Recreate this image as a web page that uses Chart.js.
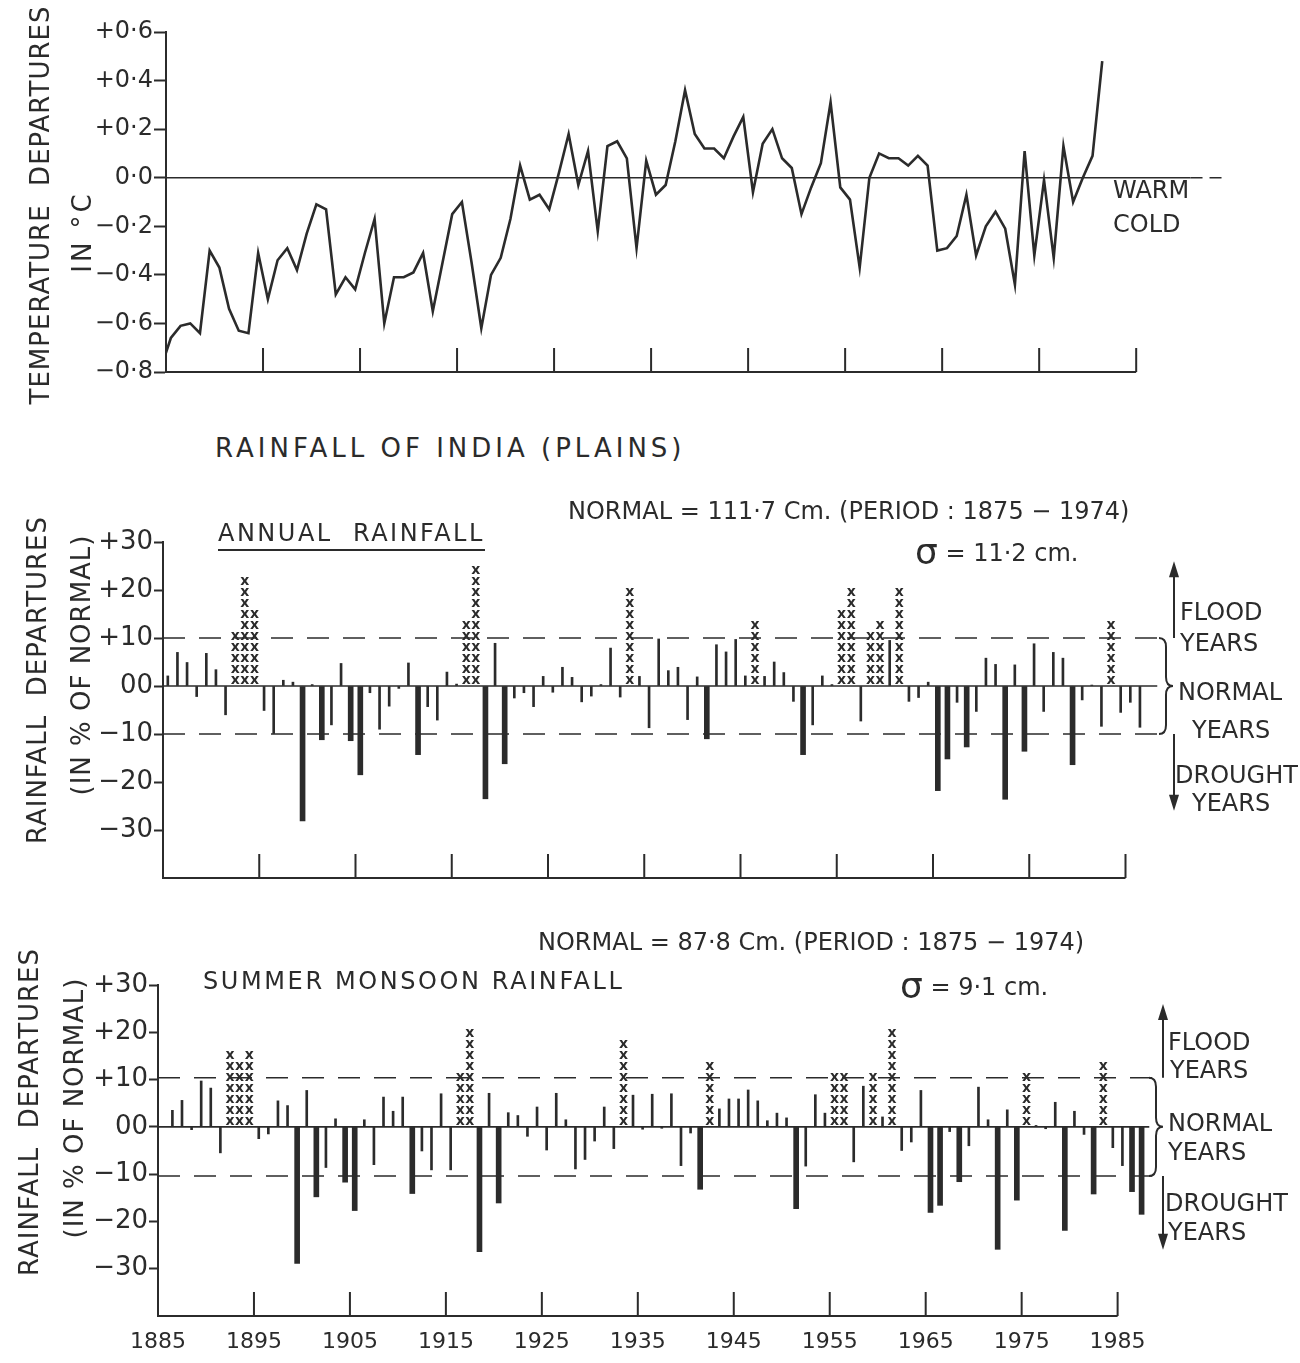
<!DOCTYPE html>
<html lang="en">
<head>
<meta charset="UTF-8">
<title>Temperature and rainfall departures, India</title>
<script src="https://cdn.jsdelivr.net/npm/chart.js@4.4.1/dist/chart.umd.min.js"></script>
<style>
  body { margin: 0; background: #fff; font-family: 'DejaVu Sans', sans-serif; color: #2b2b2b; }
  #page { position: relative; width: 1300px; height: 1363px; overflow: hidden; }
  canvas { position: absolute; left: 0; }
  .lbl { position: absolute; white-space: nowrap; font-size: 24px; line-height: 1; }
  .rot { font-size: 26px; letter-spacing: 1px; transform: translate(-50%, -50%) rotate(-90deg); }
  .sigma { font-size: 36px; vertical-align: -3px; }
</style>
</head>
<body>
<div id="page">
  <canvas id="tempChart" width="1300" height="400" style="top:0"></canvas>
  <canvas id="annualChart" width="1300" height="440" style="top:470px"></canvas>
  <canvas id="monsoonChart" width="1300" height="453" style="top:910px"></canvas>

  <!-- temperature panel -->
  <div class="lbl rot" style="left:40px; top:205px">TEMPERATURE&nbsp; DEPARTURES</div>
  <div class="lbl rot" style="left:82px; top:232px; letter-spacing:3px">IN °C</div>
  <div class="lbl" style="left:1113px; top:178px">WARM</div>
  <div class="lbl" style="left:1113px; top:212px">COLD</div>
  <div class="lbl" style="left:215px; top:435px; font-size:26px; letter-spacing:4px">RAINFALL OF INDIA (PLAINS)</div>

  <!-- annual panel -->
  <div class="lbl" style="left:568px; top:499px">NORMAL = 111·7 Cm. (PERIOD : 1875 − 1974)</div>
  <div class="lbl" style="left:915px; top:534px"><span class="sigma">σ</span> = 11·2 cm.</div>
  <div class="lbl" style="left:218px; top:521px; letter-spacing:2.5px; padding-bottom:4px; border-bottom:2px solid #2b2b2b">ANNUAL&nbsp; RAINFALL</div>
  <div class="lbl rot" style="left:37px; top:680px">RAINFALL&nbsp; DEPARTURES</div>
  <div class="lbl rot" style="left:81px; top:665px">(IN % OF NORMAL)</div>
  <div class="lbl" style="left:1180px; top:600px">FLOOD</div>
  <div class="lbl" style="left:1180px; top:631px">YEARS</div>
  <div class="lbl" style="left:1178px; top:680px">NORMAL</div>
  <div class="lbl" style="left:1192px; top:718px">YEARS</div>
  <div class="lbl" style="left:1175px; top:763px">DROUGHT</div>
  <div class="lbl" style="left:1192px; top:791px">YEARS</div>

  <!-- monsoon panel -->
  <div class="lbl" style="left:538px; top:930px">NORMAL = 87·8 Cm. (PERIOD : 1875 − 1974)</div>
  <div class="lbl" style="left:203px; top:969px; letter-spacing:2.6px">SUMMER MONSOON RAINFALL</div>
  <div class="lbl" style="left:900px; top:968px"><span class="sigma">σ</span> = 9·1 cm.</div>
  <div class="lbl rot" style="left:29px; top:1112px">RAINFALL&nbsp; DEPARTURES</div>
  <div class="lbl rot" style="left:74px; top:1108px">(IN % OF NORMAL)</div>
  <div class="lbl" style="left:1168px; top:1030px">FLOOD</div>
  <div class="lbl" style="left:1170px; top:1058px">YEARS</div>
  <div class="lbl" style="left:1168px; top:1111px">NORMAL</div>
  <div class="lbl" style="left:1168px; top:1140px">YEARS</div>
  <div class="lbl" style="left:1165px; top:1191px">DROUGHT</div>
  <div class="lbl" style="left:1168px; top:1220px">YEARS</div>
</div>

<script>
const ink = '#2b2b2b';
const FONT = "'DejaVu Sans', sans-serif";

// temperature departures (deg C), one value per year starting 1884
const TEMP_START = 1884;
const tempDepartures = [
  -0.78, -0.66, -0.61, -0.60, -0.64, -0.30, -0.37, -0.54, -0.63, -0.64,
  -0.31, -0.50, -0.34, -0.29, -0.38, -0.23, -0.11, -0.13, -0.48, -0.41,
  -0.46, -0.31, -0.17, -0.60, -0.41, -0.41, -0.39, -0.31, -0.55, -0.35,
  -0.15, -0.10, -0.35, -0.62, -0.40, -0.33, -0.17, 0.05, -0.09, -0.07,
  -0.13, 0.02, 0.18, -0.03, 0.11, -0.22, 0.13, 0.15, 0.08, -0.29,
  0.07, -0.07, -0.03, 0.15, 0.36, 0.18, 0.12, 0.12, 0.08, 0.17,
  0.25, -0.06, 0.14, 0.20, 0.08, 0.04, -0.15, -0.04, 0.06, 0.31,
  -0.04, -0.09, -0.37, 0.00, 0.10, 0.08, 0.08, 0.05, 0.09, 0.05,
  -0.30, -0.29, -0.24, -0.07, -0.32, -0.20, -0.14, -0.21, -0.44, 0.11,
  -0.32, -0.01, -0.33, 0.13, -0.10, 0.00, 0.09, 0.48
];

// annual rainfall departures (% of normal), from 1885
const ANNUAL_START = 1885;
const annualDepartures = [
  2.1, 7.0, 4.9, -2.2, 6.8, 3.4, -6.0, 11.4, 21.5, 16.2,
  -5.1, -9.9, 1.2, 0.8, -28.1, 0.3, -11.2, -8.1, 4.7, -11.4,
  -18.5, -1.4, -9.0, -4.2, -0.5, 4.8, -14.3, -4.3, -7.1, 2.9,
  0.4, 13.8, 25.5, -23.5, 8.9, -16.2, -2.5, -1.4, -4.3, 2.0,
  -1.3, 3.9, 1.8, -3.3, -2.1, 0.3, 7.9, -2.3, 19.7, 2.0,
  -8.7, 9.8, 3.2, 3.9, -7.0, 1.9, -11.0, 8.6, 7.1, 9.7,
  2.1, 12.8, 2.0, 5.0, 2.8, -3.2, -14.3, -8.1, 2.1, 0.3,
  15.5, 19.2, -7.3, 10.8, 12.3, 9.5, 20.5, -3.2, -2.4, 0.8,
  -21.8, -15.2, -3.4, -12.7, -5.3, 5.8, 4.5, -23.6, 4.4, -13.6,
  8.8, -5.3, 7.0, 5.8, -16.4, -2.9, 0.2, -8.4, 13.2, -5.5,
  -3.4, -8.6
];

// summer monsoon rainfall departures (% of normal), from 1886
const MONSOON_START = 1886;
const monsoonDepartures = [
  3.5, 5.6, -0.6, 9.7, 8.2, -5.5, 16.2, 13.1, 16.3,
  -2.5, -1.5, 5.5, 4.5, -28.9, 7.7, -14.8, -8.6, 1.7, -11.7,
  -17.7, 1.5, -8.0, 6.3, 3.3, 6.3, -14.1, -5.1, -9.1, 7.0,
  -9.1, 12.0, 21.0, -26.4, 7.1, -16.1, 3.0, 2.4, -2.0, 4.2,
  -4.9, 7.1, 1.5, -8.9, -6.9, -3.0, 4.2, -4.6, 17.1, 6.7,
  -0.5, 6.9, -0.3, 7.0, -8.2, -1.3, -13.2, 13.6, 3.8, 5.9,
  5.9, 7.8, 5.5, 1.3, 2.9, 1.9, -17.3, -8.3, 6.8, 2.9,
  10.5, 12.1, -7.4, 8.6, 12.2, 2.1, 20.3, -5.0, -3.2, 7.7,
  -18.1, -16.6, -1.0, -11.6, -4.0, 8.4, 1.5, -25.9, 3.6, -15.5,
  11.1, 0.3, -0.4, 5.2, -21.9, 3.3, -1.6, -14.2, 13.0, -4.4,
  -8.2, -13.7, -18.5
];

// one standard deviation, as % of normal
const ANNUAL_SIGMA = 10.0;
const MONSOON_SIGMA = 10.4;

const tempTicks = [-0.8, -0.6, -0.4, -0.2, 0, 0.2, 0.4, 0.6];
const rainTicks = [-40, -30, -20, -10, 0, 10, 20, 30];
const decadeTicks = [1895, 1905, 1915, 1925, 1935, 1945, 1955, 1965, 1975, 1985];
const decadeLabels = [1885, 1895, 1905, 1915, 1925, 1935, 1945, 1955, 1965, 1975, 1985];

const X_MIN = 1885, X_MAX = 1989, AXIS_END = 1985;

function tempLabel(v) {
  if (Math.abs(v) < 1e-9) return '0·0';
  return (v > 0 ? '+' : '−') + Math.abs(v).toFixed(1).replace('.', '·');
}
function rainLabel(v) {
  if (v === -40) return '';
  if (v === 0) return '00';
  return (v > 0 ? '+' : '−') + Math.abs(v);
}

// horizontal reference lines (zero line, sigma limits)
const refLines = {
  id: 'refLines',
  beforeDatasetsDraw(chart, args, o) {
    const {ctx} = chart;
    const xs = chart.scales.x, ys = chart.scales.y;
    ctx.save();
    ctx.strokeStyle = ink;
    (o.lines || []).forEach(l => {
      ctx.lineWidth = l.width || 1.5;
      ctx.setLineDash(l.dash || []);
      ctx.beginPath();
      ctx.moveTo(xs.getPixelForValue(l.from), ys.getPixelForValue(l.value));
      ctx.lineTo(xs.getPixelForValue(l.to), ys.getPixelForValue(l.value));
      ctx.stroke();
    });
    ctx.restore();
  }
};

// bottom axis line with inward decade ticks
const xAxisTicks = {
  id: 'xAxisTicks',
  afterDraw(chart, args, o) {
    const {ctx, chartArea} = chart;
    const xs = chart.scales.x;
    const yb = chartArea.bottom;
    ctx.save();
    ctx.strokeStyle = ink;
    ctx.lineWidth = 2;
    ctx.beginPath();
    ctx.moveTo(xs.getPixelForValue(X_MIN) - 1, yb);
    ctx.lineTo(xs.getPixelForValue(AXIS_END), yb);
    decadeTicks.forEach(yr => {
      const px = xs.getPixelForValue(yr);
      ctx.moveTo(px, yb);
      ctx.lineTo(px, yb - (o.len || 24));
    });
    ctx.stroke();
    ctx.restore();
  }
};

// columns of x marks for flood years
const floodMarks = {
  id: 'floodMarks',
  afterDatasetsDraw(chart) {
    const idx = chart.data.datasets.findIndex(d => d.label === 'flood');
    if (idx < 0) return;
    const ctx = chart.ctx;
    ctx.save();
    ctx.fillStyle = ink;
    ctx.font = 'bold 14px ' + FONT;
    ctx.textAlign = 'center';
    ctx.textBaseline = 'middle';
    chart.getDatasetMeta(idx).data.forEach(bar => {
      const {x, y, base} = bar.getProps(['x', 'y', 'base'], true);
      for (let py = base - 5; py >= y - 2; py -= 11) ctx.fillText('x', x, py);
    });
    ctx.restore();
  }
};

// brace and arrows marking flood / normal / drought bands
const bandKey = {
  id: 'bandKey',
  afterDraw(chart, args, o) {
    if (!o || !o.limit) return;
    const {ctx, chartArea} = chart;
    const ys = chart.scales.y;
    const yTop = ys.getPixelForValue(o.limit), yBot = ys.getPixelForValue(-o.limit);
    const yUp = ys.getPixelForValue(o.reach), yDown = ys.getPixelForValue(-o.reach);
    const bx = chartArea.right + o.braceDx, ax = chartArea.right + o.arrowDx;
    const mid = (yTop + yBot) / 2;
    ctx.save();
    ctx.strokeStyle = ink;
    ctx.fillStyle = ink;
    ctx.lineWidth = 2;
    ctx.beginPath();
    ctx.moveTo(bx - 7, yTop);
    ctx.quadraticCurveTo(bx, yTop, bx, yTop + 9);
    ctx.lineTo(bx, mid - 9);
    ctx.quadraticCurveTo(bx, mid, bx + 7, mid);
    ctx.quadraticCurveTo(bx, mid, bx, mid + 9);
    ctx.lineTo(bx, yBot - 9);
    ctx.quadraticCurveTo(bx, yBot, bx - 7, yBot);
    ctx.stroke();
    ctx.beginPath();
    ctx.moveTo(ax, yTop); ctx.lineTo(ax, yUp + 12);
    ctx.moveTo(ax, yBot); ctx.lineTo(ax, yDown - 12);
    ctx.stroke();
    [[yUp, 1], [yDown, -1]].forEach(([tip, dir]) => {
      ctx.beginPath();
      ctx.moveTo(ax, tip);
      ctx.lineTo(ax - 5, tip + dir * 16);
      ctx.lineTo(ax + 5, tip + dir * 16);
      ctx.closePath();
      ctx.fill();
    });
    ctx.restore();
  }
};

function yAxis(min, max, ticks, label, size, width, tickLen) {
  return {
    min: min, max: max,
    afterBuildTicks: s => { s.ticks = ticks.map(v => ({ value: v })); },
    afterFit: s => { s.width = width; },
    ticks: { callback: label, font: { family: FONT, size: size }, color: ink, padding: 1 },
    grid: {
      drawOnChartArea: false, drawTicks: true, tickLength: tickLen, tickWidth: 2,
      tickColor: c => (c.tick && c.tick.value === -40) ? 'rgba(0,0,0,0)' : ink
    },
    border: { display: true, color: ink, width: 2 }
  };
}

// temperature panel
new Chart(document.getElementById('tempChart'), {
  type: 'line',
  data: {
    datasets: [{
      label: 'temperature',
      data: tempDepartures.map((v, i) => ({ x: TEMP_START + i + 0.5, y: v })),
      borderColor: ink, borderWidth: 2.6, pointRadius: 0, tension: 0, fill: false
    }]
  },
  options: {
    responsive: false, animation: false, events: [],
    layout: { padding: { top: 32, bottom: 28, left: 0, right: 125 } },
    plugins: {
      legend: { display: false }, tooltip: { enabled: false },
      refLines: { lines: [
        { value: 0, from: X_MIN, to: 1990.6, width: 1.5 },
        { value: 0, from: 1990.6, to: 1994.2, width: 1.5, dash: [12, 7] }
      ] },
      xAxisTicks: { len: 24 }
    },
    scales: {
      x: { type: 'linear', min: X_MIN, max: X_MAX, display: false },
      y: yAxis(-0.8, 0.6, tempTicks, tempLabel, 24, 166, 12)
    }
  },
  plugins: [refLines, xAxisTicks]
});

function rainChart(id, start, values, sigma, cfg) {
  const pts = values.map((v, i) => ({ x: start + i + 0.5, y: v }));
  const bars = (label, data, color, thick) => ({
    label: label, data: data, backgroundColor: color, barThickness: thick, grouped: false
  });
  const xScale = {
    type: 'linear', min: X_MIN, max: X_MAX, offset: false, display: cfg.labels,
    afterBuildTicks: s => { s.ticks = decadeLabels.map(v => ({ value: v })); },
    grid: { display: false, drawTicks: false },
    border: { display: false },
    ticks: {
      autoSkip: false, maxRotation: 0, padding: 13,
      font: { family: FONT, size: 22 }, color: ink,
      callback: v => String(v)
    }
  };
  if (cfg.labels) xScale.afterFit = s => { s.height = 47; };
  return new Chart(document.getElementById(id), {
    type: 'bar',
    data: {
      datasets: [
        bars('normal', pts.filter(p => Math.abs(p.y) <= sigma), ink, 2),
        bars('drought', pts.filter(p => p.y < -sigma), ink, 5),
        bars('flood', pts.filter(p => p.y > sigma), 'rgba(0,0,0,0)', 6)
      ]
    },
    options: {
      responsive: false, animation: false, events: [],
      layout: { padding: { top: cfg.top, bottom: cfg.bottom, left: 0, right: cfg.right } },
      plugins: {
        legend: { display: false }, tooltip: { enabled: false },
        refLines: { lines: [
          { value: 0, from: X_MIN, to: 1988.3, width: 1.6 },
          { value: sigma, from: X_MIN, to: X_MAX, width: 1.5, dash: [22, 14] },
          { value: -sigma, from: X_MIN, to: X_MAX, width: 1.5, dash: [22, 14] }
        ] },
        xAxisTicks: { len: 24 },
        bandKey: { limit: sigma, reach: 26, braceDx: cfg.braceDx, arrowDx: cfg.arrowDx }
      },
      scales: {
        x: xScale,
        y: yAxis(-40, 30, rainTicks, rainLabel, 26, cfg.left, 9)
      }
    },
    plugins: [refLines, xAxisTicks, floodMarks, bandKey]
  });
}

rainChart('annualChart', ANNUAL_START, annualDepartures, ANNUAL_SIGMA,
  { top: 72, bottom: 32, right: 136, left: 163, labels: false, braceDx: 2, arrowDx: 10 });
rainChart('monsoonChart', MONSOON_START, monsoonDepartures, MONSOON_SIGMA,
  { top: 75, bottom: 0, right: 144, left: 158, labels: true, braceDx: 0, arrowDx: 7 });
</script>
</body>
</html>
